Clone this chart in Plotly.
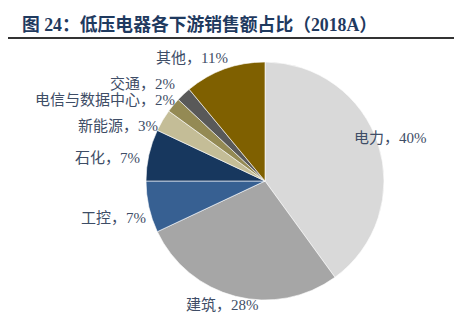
import plotly.graph_objects as go

# ---- data ----
categories = ["电力", "建筑", "工控", "石化", "新能源", "电信与数据中心", "交通", "其他"]
shares = [40, 28, 7, 7, 3, 2, 2, 11]
colors = ["#D9D9D9", "#A6A6A6", "#376092", "#17375E", "#C4BD97", "#948A54", "#595959", "#7F6000"]
title_text = "图 24：低压电器各下游销售额占比（2018A）"

W, H = 454, 333
cx, cy, r = 265, 181, 119

fig = go.Figure(go.Pie(
    labels=categories, values=shares, sort=False, direction="clockwise", rotation=0,
    marker=dict(colors=colors, line=dict(color="white", width=0.6)),
    textinfo="none", hoverinfo="label+percent", showlegend=False,
    domain=dict(x=[(cx - r) / W, (cx + r) / W], y=[(H - cy - r) / H, (H - cy + r) / H]),
))

# label placement (pixels): (x, y, anchor)
label_pos = [(352, 138, "left"), (222, 305, "center"), (148, 218, "right"), (142, 158, "right"),
             (160, 126, "right"), (177, 100, "right"), (177, 83, "right"), (230, 58, "right")]

font_lbl = dict(family="Liberation Serif, Noto Sans CJK SC", size=15, color="#3E4D66")
annotations = []
for cat, val, (px, py, anc) in zip(categories, shares, label_pos):
    annotations.append(dict(text=f"{cat}，{val}%", x=px / W, y=1 - py / H, xref="paper", yref="paper",
                            xanchor=anc, yanchor="middle", showarrow=False, font=font_lbl))
annotations.append(dict(text=f"<b>{title_text}</b>", x=20 / W, y=1 - 24 / H, xref="paper", yref="paper",
                        xanchor="left", yanchor="middle", showarrow=False,
                        font=dict(family="Liberation Serif, Noto Sans CJK SC", size=17.8, color="#1F3A5F")))

fig.update_layout(
    width=W, height=H, margin=dict(l=0, r=0, t=0, b=0),
    paper_bgcolor="white", plot_bgcolor="white",
    annotations=annotations,
    shapes=[dict(type="line", xref="paper", yref="paper", x0=8 / W, x1=1, y0=1 - 38 / H, y1=1 - 38 / H,
                 line=dict(color="#333333", width=2))],
)
fig.write_html("out.html")
